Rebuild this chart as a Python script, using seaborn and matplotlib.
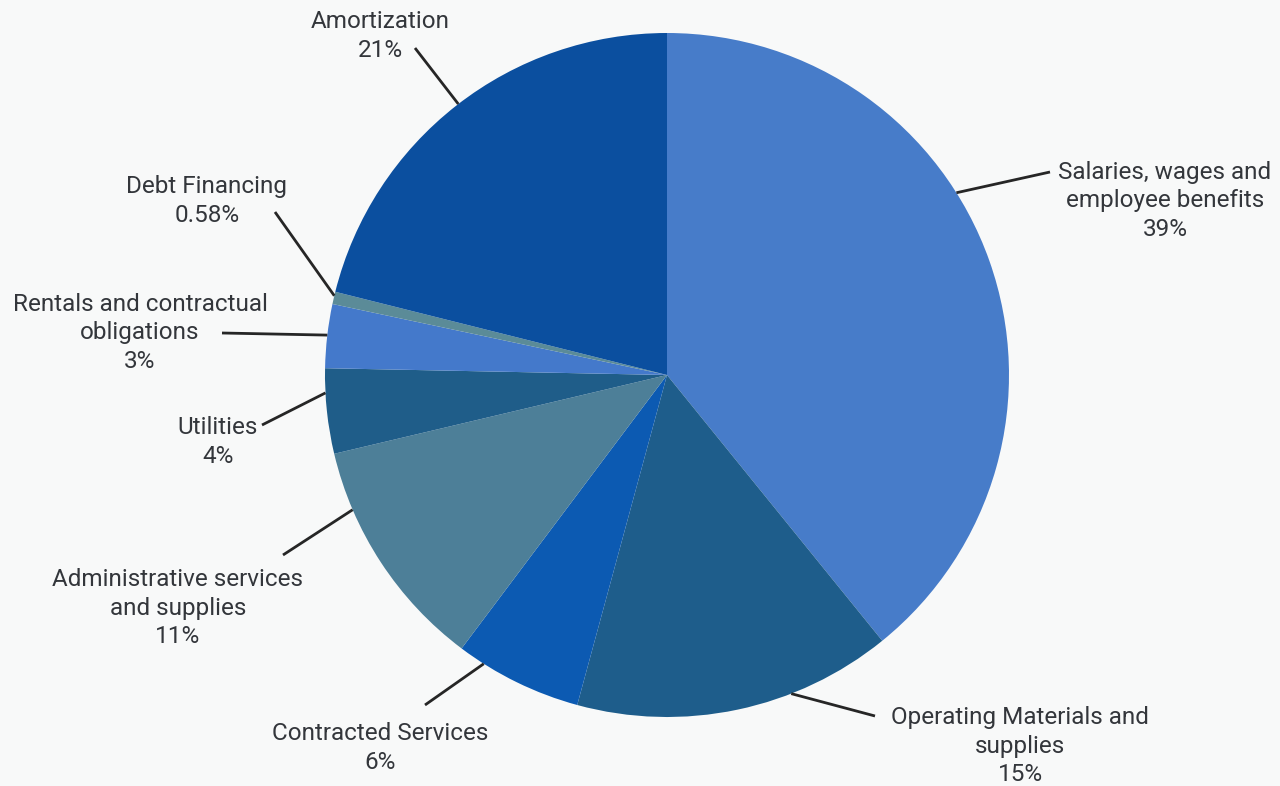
import numpy as np
import matplotlib
matplotlib.use("Agg")
import matplotlib.pyplot as plt
import seaborn as sns

# Expense categories and their share of the total (%)
categories = [
    "Salaries, wages and\nemployee benefits",
    "Operating Materials and\nsupplies",
    "Contracted Services",
    "Administrative services\nand supplies",
    "Utilities",
    "Rentals and contractual\nobligations",
    "Debt Financing",
    "Amortization",
]
shares = [39, 15, 6, 11, 4, 3, 0.58, 21]
share_labels = ["39%", "15%", "6%", "11%", "4%", "3%", "0.58%", "21%"]

colors = ["#477cc9", "#1e5d8b", "#0c5ab2", "#4d7f98",
          "#1f5d89", "#4479cb", "#5b8b98", "#0b4f9f"]

# Layout (figure pixel space, y measured upward)
center = (667, 411)
radius = 342
label_xy = [(1165, 585), (1020, 40), (380, 38), (178, 178),
            (218, 344), (140, 453), (207, 585), (380, 750)]
leader_angle = [32.2, -68.7, -122.4, -156.8, -177.0, 173.3, 166.6, 127.6]
leader_end = [(1050, 614), (875, 70), (425, 81), (283, 231),
              (262, 361), (222, 453), (275, 574), (415, 738)]

sns.set_theme(style="white")
plt.rcParams["font.family"] = ["Roboto", "DejaVu Sans"]

fig = plt.figure(figsize=(12.8, 7.86), dpi=100)
fig.patch.set_facecolor("#f8f9f9")
ax = fig.add_axes([0, 0, 1, 1])
ax.set_facecolor("#f8f9f9")

ax.pie(shares, colors=colors, startangle=90, counterclock=False,
       center=center, radius=radius, normalize=True,
       wedgeprops=dict(linewidth=0))

for cat, pct, (tx, ty), ang, (ex, ey) in zip(categories, share_labels,
                                             label_xy, leader_angle, leader_end):
    a = np.deg2rad(ang)
    px = center[0] + radius * np.cos(a)
    py = center[1] + radius * np.sin(a)
    ax.plot([px, ex], [py, ey], color="#262626", lw=2.0, solid_capstyle="butt")
    ax.text(tx, ty, f"{cat}\n{pct}", ha="center", va="center",
            fontsize=17.5, color="#33363b", linespacing=1.3)

ax.set_xlim(0, 1280)
ax.set_ylim(0, 786)
ax.set_aspect("equal")
ax.axis("off")

fig.savefig("out.png", dpi=100, facecolor=fig.get_facecolor())
